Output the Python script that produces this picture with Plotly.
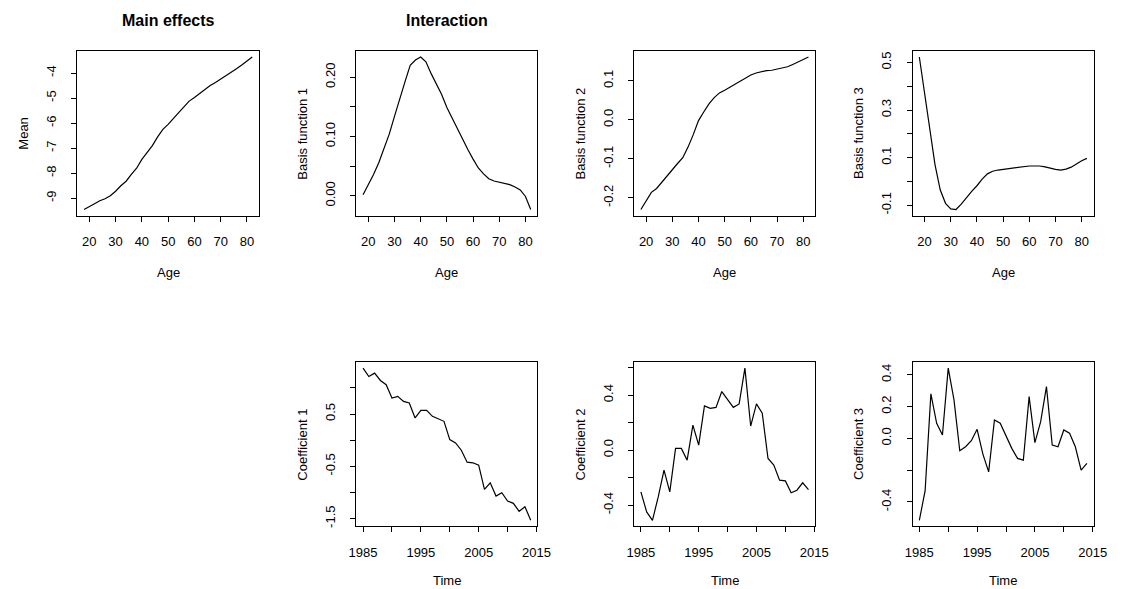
import plotly.graph_objects as go

# ---------------- data ----------------
ages = [18, 20, 22, 24, 26, 28, 30, 32, 34, 36, 38, 40, 42, 44, 46, 48, 50,
        52, 54, 56, 58, 60, 62, 64, 66, 68, 70, 72, 74, 76, 78, 80, 82]

mean_effect = [-9.45, -9.35, -9.22, -9.10, -9.02, -8.90, -8.72, -8.50, -8.32,
               -8.05, -7.80, -7.45, -7.18, -6.90, -6.55, -6.25, -6.05, -5.80,
               -5.58, -5.35, -5.12, -4.98, -4.82, -4.65, -4.50, -4.38, -4.25,
               -4.12, -3.98, -3.83, -3.68, -3.52, -3.36]

basis1 = [0.002, 0.018, 0.036, 0.056, 0.080, 0.104, 0.134, 0.165, 0.192, 0.220,
          0.229, 0.234, 0.226, 0.206, 0.188, 0.171, 0.149, 0.131, 0.112, 0.096,
          0.078, 0.062, 0.047, 0.037, 0.029, 0.025, 0.023, 0.021, 0.019, 0.015,
          0.010, -0.001, -0.023]

basis2 = [-0.230, -0.207, -0.186, -0.176, -0.160, -0.142, -0.126, -0.112, -0.097,
          -0.070, -0.038, -0.002, 0.020, 0.041, 0.057, 0.069, 0.076, 0.084,
          0.092, 0.101, 0.109, 0.115, 0.120, 0.124, 0.126, 0.127, 0.130, 0.133,
          0.136, 0.142, 0.148, 0.155, 0.161]

basis3 = [0.523, 0.370, 0.225, 0.070, -0.036, -0.092, -0.115, -0.118, -0.095,
          -0.066, -0.042, -0.018, 0.010, 0.032, 0.043, 0.048, 0.051, 0.055,
          0.058, 0.061, 0.064, 0.065, 0.065, 0.065, 0.061, 0.055, 0.051, 0.048,
          0.052, 0.060, 0.075, 0.087, 0.097]

years = list(range(1985, 2015))

coef1 = [1.376, 1.217, 1.281, 1.141, 1.059, 0.805, 0.837, 0.741, 0.710, 0.424,
         0.570, 0.570, 0.456, 0.411, 0.360, 0.011, -0.052, -0.192, -0.421, -0.433,
         -0.478, -0.941, -0.814, -1.068, -1.005, -1.163, -1.208, -1.360, -1.271, -1.532]

coef2 = [-0.304, -0.450, -0.511, -0.341, -0.146, -0.304, 0.012, 0.012, -0.073, 0.182,
         0.036, 0.321, 0.304, 0.311, 0.426, 0.365, 0.311, 0.336, 0.596, 0.175,
         0.336, 0.268, -0.061, -0.109, -0.219, -0.224, -0.311, -0.292, -0.238, -0.287]

coef3 = [-0.516, -0.331, 0.280, 0.095, 0.021, 0.442, 0.242, -0.078, -0.053, -0.015,
         0.057, -0.099, -0.211, 0.116, 0.095, 0.021, -0.063, -0.126, -0.137, 0.263,
         -0.027, 0.105, 0.326, -0.042, -0.053, 0.053, 0.032, -0.053, -0.200, -0.158]

age_ticks = [20, 30, 40, 50, 60, 70, 80]
age_ticktext = ["20", "30", "40", "50", "60", "70", "80"]
time_ticks = [1985, 1990, 1995, 2000, 2005, 2010, 2015]
time_ticktext = ["1985", "", "1995", "", "2005", "", "2015"]

y_ticks = {
    "mean": ([-9, -8, -7, -6, -5, -4], ["-9", "-8", "-7", "-6", "-5", "-4"]),
    "b1": ([0.0, 0.05, 0.10, 0.15, 0.20], ["0.00", "", "0.10", "", "0.20"]),
    "b2": ([-0.2, -0.1, 0.0, 0.1], ["-0.2", "-0.1", "0.0", "0.1"]),
    "b3": ([-0.1, 0.0, 0.1, 0.2, 0.3, 0.4, 0.5], ["-0.1", "", "0.1", "", "0.3", "", "0.5"]),
    "c1": ([-1.5, -1.0, -0.5, 0.0, 0.5, 1.0], ["-1.5", "", "-0.5", "", "0.5", ""]),
    "c2": ([-0.4, -0.2, 0.0, 0.2, 0.4, 0.6], ["-0.4", "", "0.0", "", "0.4", ""]),
    "c3": ([-0.4, -0.2, 0.0, 0.2, 0.4], ["-0.4", "", "0.0", "0.2", "0.4"]),
}

# ---------------- layout geometry (pixels) ----------------
W, H = 1123, 589
col_px = [(70.7, 256.0), (355.3, 540.0), (638.7, 823.3), (922.7, 1107.3)]
row_px = [(51.0, 216.0), (362.7, 527.3)]
xlabel_gap = [57, 54]

FONT = "Liberation Sans, Arial, Helvetica, sans-serif"
FS = 13

panels = [
    # (col, row, x, y, ykey, ylabel, xlabel)
    (0, 0, ages, mean_effect, "mean", "Mean", "Age"),
    (1, 0, ages, basis1, "b1", "Basis function 1", "Age"),
    (2, 0, ages, basis2, "b2", "Basis function 2", "Age"),
    (3, 0, ages, basis3, "b3", "Basis function 3", "Age"),
    (1, 1, years, coef1, "c1", "Coefficient 1", "Time"),
    (2, 1, years, coef2, "c2", "Coefficient 2", "Time"),
    (3, 1, years, coef3, "c3", "Coefficient 3", "Time"),
]


def rrange(v):
    lo, hi = min(v), max(v)
    d = (hi - lo) * 0.04
    return [lo - d, hi + d]


fig = go.Figure()
annotations = []
layout_axes = {}

for i, (c, r, xs, ys, yk, ylab, xlab) in enumerate(panels):
    n = "" if i == 0 else str(i + 1)
    x0, x1 = col_px[c]
    y0, y1 = row_px[r]
    fig.add_trace(go.Scatter(x=xs, y=ys, mode="lines",
                             line=dict(color="black", width=1.2),
                             xaxis="x" + n, yaxis="y" + n,
                             showlegend=False, hoverinfo="skip"))
    common = dict(showline=True, linecolor="black", linewidth=1, mirror=True,
                  ticks="outside", ticklen=5, tickwidth=1, tickcolor="black",
                  showgrid=False, zeroline=False, fixedrange=True,
                  tickfont=dict(family=FONT, size=FS, color="black"))
    if r == 0:
        xt, xtt = age_ticks, age_ticktext
    else:
        xt, xtt = time_ticks, time_ticktext
    layout_axes["xaxis" + n] = dict(
        domain=[x0 / W, x1 / W], anchor="y" + n, range=rrange(xs),
        tickmode="array", tickvals=xt, ticktext=xtt,
        ticklabelstandoff=9, **common)
    yt, ytt = y_ticks[yk]
    layout_axes["yaxis" + n] = dict(
        domain=[1 - y1 / H, 1 - y0 / H], anchor="x" + n, range=rrange(ys),
        tickmode="array", tickvals=yt, ticktext=ytt, tickangle=-90,
        ticklabelstandoff=10, **common)
    cx = (x0 + x1) / 2
    cy = (y0 + y1) / 2
    annotations.append(dict(text=xlab, x=cx / W, y=1 - (y1 + xlabel_gap[r]) / H,
                            xref="paper", yref="paper", showarrow=False,
                            xanchor="center", yanchor="middle", borderpad=0,
                            font=dict(family=FONT, size=FS, color="black")))
    annotations.append(dict(text=ylab, x=(x0 - 55) / W, y=1 - cy / H,
                            xref="paper", yref="paper", showarrow=False,
                            textangle=-90, xanchor="center", yanchor="middle",
                            font=dict(family=FONT, size=FS, color="black")))

for title, c in [("<b>Main effects</b>", 0), ("<b>Interaction</b>", 1)]:
    x0, x1 = col_px[c]
    annotations.append(dict(text=title, x=((x0 + x1) / 2) / W, y=1 - 20.7 / H,
                            xref="paper", yref="paper", showarrow=False,
                            xanchor="center", yanchor="middle",
                            font=dict(family=FONT, size=16, color="black")))

fig.update_layout(width=W, height=H, autosize=False,
                  margin=dict(l=0, r=0, t=0, b=0),
                  paper_bgcolor="white", plot_bgcolor="white",
                  annotations=annotations, **layout_axes)

fig.write_html("out.html",
               config={"displayModeBar": False, "staticPlot": True},
               post_script="document.body.style.margin='0';"
                           "document.body.style.overflow='hidden';")
